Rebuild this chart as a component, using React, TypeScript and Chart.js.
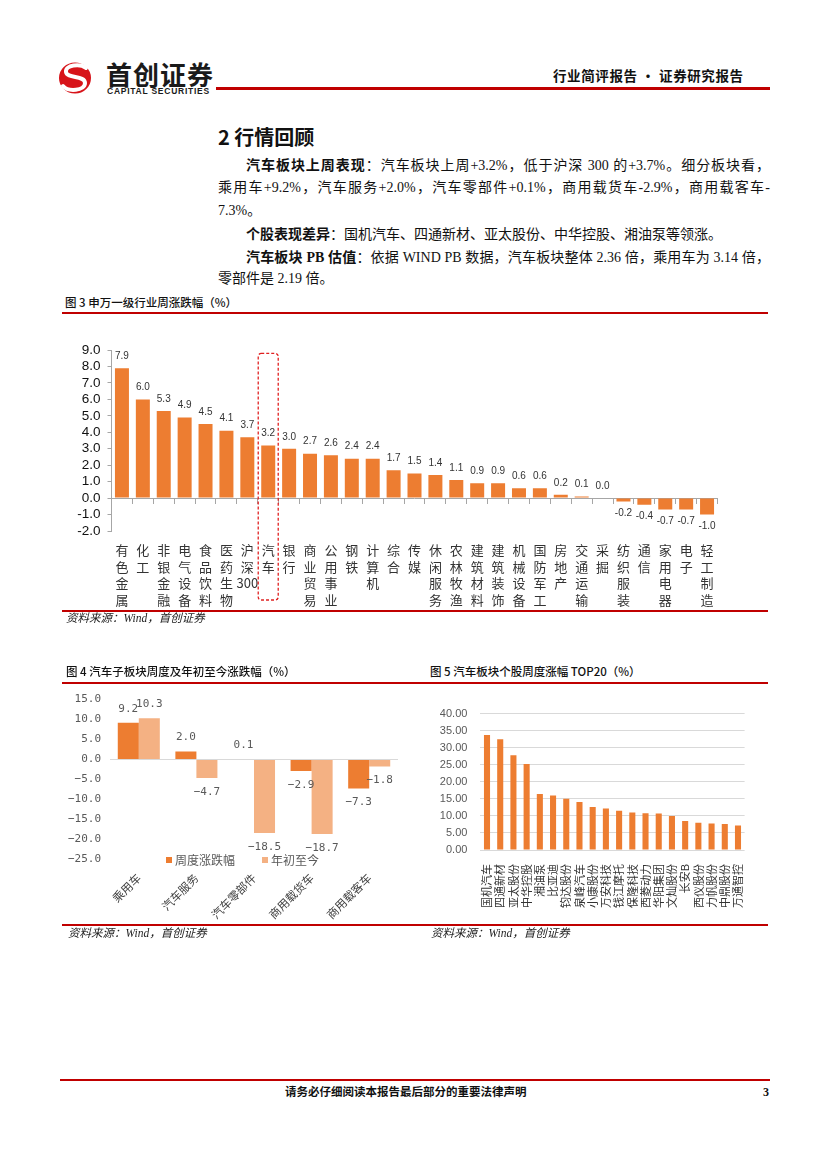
import React, { useEffect, useRef } from 'react';
import { Chart, registerables } from 'chart.js';

Chart.register(...registerables);

// ---------- data ----------
const industryLabels = ['有色金属', '化工', '非银金融', '电气设备', '食品饮料', '医药生物', '沪深300', '汽车', '银行', '商业贸易', '公用事业', '钢铁', '计算机', '综合', '传媒', '休闲服务', '农林牧渔', '建筑材料', '建筑装饰', '机械设备', '国防军工', '房地产', '交通运输', '采掘', '纺织服装', '通信', '家用电器', '电子', '轻工制造'];
const industryValues = [7.9, 6.0, 5.3, 4.9, 4.5, 4.1, 3.7, 3.2, 3.0, 2.7, 2.6, 2.4, 2.4, 1.7, 1.5, 1.4, 1.1, 0.9, 0.9, 0.6, 0.6, 0.2, 0.1, 0.0, -0.2, -0.4, -0.7, -0.7, -1.0];
const industryHighlight = '汽车';

const subLabels = ['乘用车', '汽车服务', '汽车零部件', '商用载货车', '商用载客车'];
const subSeriesNames = ['周度涨跌幅', '年初至今'];
const subWeekly = [9.2, 2.0, 0.1, -2.9, -7.3];
const subYtd = [10.3, -4.7, -18.5, -18.7, -1.8];

const stockLabels = ['国机汽车', '四通新材', '亚太股份', '中华控股', '湘油泵', '比亚迪', '钧达股份', '泉峰汽车', '小康股份', '万安科技', '钱江摩托', '保隆科技', '西菱动力', '华阳集团', '文灿股份', '长安B', '西仪股份', '力帆股份', '中鼎股份', '万通智控'];
const stockValues = [33.7, 32.5, 27.8, 25.2, 16.4, 16.0, 15.0, 14.1, 12.6, 12.2, 11.5, 11.0, 10.8, 10.7, 10.0, 8.5, 8.0, 7.8, 7.6, 7.2];

const ORANGE = '#ED7D31';
const PEACH = '#F4B183';
const RED = '#C00000';
const CJK = '"Noto Sans CJK SC"';
const SERIF = '"Liberation Serif", "Noto Sans CJK SC"';

// ---------- plugins ----------
const valueLabelPlugin: any = {
  id: 'valueLabels',
  afterDatasetsDraw(chart: any, _a: any, opts: any) {
    if (!opts || !opts.enabled) return;
    const ctx = chart.ctx;
    ctx.save();
    ctx.font = opts.font;
    ctx.fillStyle = opts.color;
    ctx.textAlign = 'center';
    ctx.textBaseline = 'middle';
    chart.data.datasets.forEach((ds: any, di: number) => {
      const meta = chart.getDatasetMeta(di);
      meta.data.forEach((el: any, i: number) => {
        const v = ds.data[i] as number;
        let t = v.toFixed(opts.decimals);
        if (v < 0) t = t.replace('-', opts.minus);
        const y = v >= 0 ? el.y - opts.offset : el.y + opts.offset;
        ctx.fillText(t, el.x, y);
      });
    });
    ctx.restore();
  },
};

const highlightPlugin: any = {
  id: 'highlightBox',
  afterDraw(chart: any, _a: any, opts: any) {
    if (!opts || !opts.enabled) return;
    const xs = chart.scales.x;
    const ys = chart.scales.y;
    const idx = chart.data.labels.findIndex((l: any) => (Array.isArray(l) ? l.join('') : l) === opts.label);
    if (idx < 0) return;
    const cx = xs.getPixelForValue(idx);
    const half = opts.halfWidth;
    const top = ys.getPixelForValue(opts.topValue);
    const bottom = chart.chartArea.bottom + opts.below;
    const ctx = chart.ctx;
    ctx.save();
    ctx.strokeStyle = opts.color;
    ctx.lineWidth = 1.3;
    ctx.setLineDash([3, 2]);
    ctx.beginPath();
    if (ctx.roundRect) ctx.roundRect(cx - half, top, half * 2, bottom - top, 3);
    else ctx.rect(cx - half, top, half * 2, bottom - top);
    ctx.stroke();
    ctx.restore();
  },
};

const innerLegendPlugin: any = {
  id: 'innerLegend',
  afterDraw(chart: any, _a: any, opts: any) {
    if (!opts || !opts.enabled) return;
    const ctx = chart.ctx;
    ctx.save();
    ctx.font = opts.font;
    ctx.textBaseline = 'middle';
    ctx.textAlign = 'left';
    const items = chart.data.datasets.map((d: any) => ({ text: d.label, color: d.backgroundColor }));
    const widths = items.map((it: any) => opts.box + opts.gap + ctx.measureText(it.text).width);
    const total = widths.reduce((a: number, b: number) => a + b, 0) + opts.itemGap * (items.length - 1);
    let x = (chart.chartArea.left + chart.chartArea.right) / 2 - total / 2 + opts.shiftX;
    const y = chart.chartArea.bottom + opts.shiftY;
    items.forEach((it: any, i: number) => {
      ctx.fillStyle = it.color;
      ctx.fillRect(x, y - opts.box / 2, opts.box, opts.box);
      ctx.fillStyle = opts.color;
      ctx.fillText(it.text, x + opts.box + opts.gap, y);
      x += widths[i] + opts.itemGap;
    });
    ctx.restore();
  },
};

// ---------- chart configs ----------
function makeIndustry(): any {
  const labels = industryLabels.map((l) => (l === '沪深300' ? ['沪', '深', '300'] : Array.from(l)));
  return {
    type: 'bar',
    data: {
      labels,
      datasets: [{ data: industryValues, backgroundColor: ORANGE, barPercentage: 0.67, categoryPercentage: 1 }],
    },
    options: {
      responsive: true,
      maintainAspectRatio: false,
      animation: false,
      layout: { padding: { top: 13, left: 0, right: 50.5, bottom: 0 } },
      plugins: {
        legend: { display: false },
        tooltip: { enabled: false },
        valueLabels: { enabled: true, font: '10px "Liberation Sans"', color: '#333', offset: 12, decimals: 1, minus: '-' },
        highlightBox: { enabled: true, label: industryHighlight, topValue: 8.8, below: 69, halfWidth: 10, color: '#E02020' },
      },
      scales: {
        x: {
          grid: { display: false },
          border: { display: false },
          ticks: {
            autoSkip: false,
            maxRotation: 0,
            minRotation: 0,
            padding: 3,
            color: '#333',
            font: { family: CJK, size: 13, lineHeight: 1.27 },
          },
          afterFit: (s: any) => { s.height = 79; },
        },
        x2: {
          axis: 'x',
          type: 'category',
          position: { y: 0 },
          offset: true,
          grid: { display: true, offset: true, drawOnChartArea: false, drawTicks: true, tickLength: 5, color: '#A6A6A6' },
          border: { display: true, color: '#A6A6A6' },
          ticks: { display: false },
        },
        y: {
          min: -2,
          max: 9,
          ticks: {
            stepSize: 1,
            autoSkip: false,
            callback: (v: any) => Number(v).toFixed(1),
            color: '#111',
            font: { family: '"Liberation Sans"', size: 13.5 },
            padding: 7,
          },
          grid: { display: true, drawOnChartArea: false, drawTicks: true, tickLength: 4, color: '#A6A6A6' },
          border: { display: true, color: '#A6A6A6' },
          afterFit: (s: any) => { s.width = 49.5; },
        },
      },
    },
    plugins: [valueLabelPlugin, highlightPlugin],
  };
}

function makeSub(): any {
  return {
    type: 'bar',
    data: {
      labels: subLabels,
      datasets: [
        { label: subSeriesNames[0], data: subWeekly, backgroundColor: ORANGE, barPercentage: 1, categoryPercentage: 0.73 },
        { label: subSeriesNames[1], data: subYtd, backgroundColor: PEACH, barPercentage: 1, categoryPercentage: 0.73 },
      ],
    },
    options: {
      responsive: true,
      maintainAspectRatio: false,
      animation: false,
      layout: { padding: { top: 6, left: 0, right: 22, bottom: 0 } },
      plugins: {
        legend: { display: false },
        tooltip: { enabled: false },
        valueLabels: { enabled: true, font: '11px "DejaVu Sans Mono"', color: '#595959', offset: 14, decimals: 1, minus: '−' },
        innerLegend: { enabled: true, font: `12px ${CJK}`, color: '#595959', box: 6, gap: 3, itemGap: 27, shiftX: -11.5, shiftY: 1 },
      },
      scales: {
        x: {
          grid: { display: false },
          border: { display: false },
          ticks: {
            autoSkip: false,
            maxRotation: 45,
            minRotation: 45,
            padding: 4,
            color: '#404040',
            font: { family: CJK, size: 11.5 },
          },
          afterFit: (s: any) => { s.height = 85; },
        },
        y: {
          min: -25,
          max: 15,
          ticks: {
            stepSize: 5,
            autoSkip: false,
            callback: (v: any) => Number(v).toFixed(1).replace('-', '−'),
            color: '#595959',
            font: { family: '"DejaVu Sans Mono"', size: 11 },
            padding: 9,
          },
          grid: {
            drawTicks: false,
            color: (c: any) => (c.tick && c.tick.value === 0 ? '#D9D9D9' : 'rgba(0,0,0,0)'),
          },
          border: { display: false },
          afterFit: (s: any) => { s.width = 48; },
        },
      },
    },
    plugins: [valueLabelPlugin, innerLegendPlugin],
  };
}

function makeStocks(): any {
  return {
    type: 'bar',
    data: {
      labels: stockLabels,
      datasets: [{ data: stockValues, backgroundColor: ORANGE, barPercentage: 0.46, categoryPercentage: 1 }],
    },
    options: {
      responsive: true,
      maintainAspectRatio: false,
      animation: false,
      layout: { padding: { top: 7, left: 0, right: 25.4, bottom: 0 } },
      plugins: { legend: { display: false }, tooltip: { enabled: false } },
      scales: {
        x: {
          grid: { display: false },
          border: { display: false },
          ticks: {
            autoSkip: false,
            maxRotation: 90,
            minRotation: 90,
            padding: 6,
            color: '#333',
            font: { family: CJK, size: 11 },
          },
          afterFit: (s: any) => { s.height = 72; },
        },
        y: {
          min: 0,
          max: 40,
          ticks: {
            stepSize: 5,
            autoSkip: false,
            callback: (v: any) => Number(v).toFixed(2),
            color: '#595959',
            font: { family: '"Liberation Sans"', size: 11 },
            padding: 13,
          },
          grid: { drawTicks: false, color: '#D9D9D9' },
          border: { display: false },
          afterFit: (s: any) => { s.width = 60.4; },
        },
      },
    },
  };
}

// ---------- components ----------
function ChartBox(props: { left: number; top: number; width: number; height: number; make: () => any }) {
  const ref = useRef<HTMLCanvasElement>(null);
  useEffect(() => {
    const chart = new Chart(ref.current as HTMLCanvasElement, props.make());
    return () => chart.destroy();
  }, []);
  return (
    <div style={{ position: 'absolute', left: props.left, top: props.top, width: props.width, height: props.height }}>
      <canvas ref={ref} />
    </div>
  );
}

function Txt(props: { x: number; cy: number; size: number; children: any; style?: any; w?: number }) {
  const lh = props.size + 8;
  return (
    <div
      style={{
        position: 'absolute',
        left: props.x,
        top: props.cy - lh / 2,
        width: props.w,
        lineHeight: `${lh}px`,
        fontSize: props.size,
        whiteSpace: 'nowrap',
        ...props.style,
      }}
    >
      {props.children}
    </div>
  );
}

function Line(props: { x1: number; x2: number; y: number; h: number; color?: string }) {
  return <div style={{ position: 'absolute', left: props.x1, top: props.y - props.h / 2, width: props.x2 - props.x1, height: props.h, background: props.color || RED }} />;
}

const bodyStyle = { fontFamily: SERIF, color: '#111' };
const justify = { textAlign: 'justify', textAlignLast: 'justify', whiteSpace: 'normal' } as any;
const titleStyle = { fontFamily: CJK, color: '#111', fontWeight: 500 };
const srcStyle = { fontFamily: SERIF, fontStyle: 'italic', color: '#222' };

export default function App() {
  return (
    <div style={{ position: 'absolute', left: 0, top: 0, width: 827, height: 1169, background: '#fff', overflow: 'hidden' }}>
      {/* header */}
      <svg style={{ position: 'absolute', left: 56, top: 58 }} width={40} height={40} viewBox="0 0 40 40">
        <ellipse cx={19} cy={20} rx={16} ry={15.5} fill="#D7141A" />
        <path d="M30 10 C24 5 9 7 10 14 C11 21 29 17 29 25 C29 33 12 34 7 28" stroke="#fff" strokeWidth={4} fill="none" strokeLinecap="round" />
      </svg>
      <Txt x={106} cy={74} size={26} style={{ fontFamily: CJK, fontWeight: 700, color: '#1a1a1a', letterSpacing: 1 }}>首创证券</Txt>
      <Txt x={107} cy={91} size={8.5} style={{ fontFamily: '"Liberation Sans"', fontWeight: 700, color: '#1a1a1a', letterSpacing: 0.75 }}>CAPITAL SECURITIES</Txt>
      <Line x1={216} x2={770} y={88} h={3} />
      <Txt x={553} cy={76} size={13.5} style={{ fontFamily: CJK, fontWeight: 700, color: '#111', letterSpacing: 0.6 }}>行业简评报告 · 证券研究报告</Txt>

      {/* section heading and text */}
      <Txt x={218} cy={137} size={20} style={{ fontFamily: CJK, fontWeight: 700, color: '#111' }}>2 行情回顾</Txt>
      <Txt x={246} cy={166} size={14} w={524} style={{ ...bodyStyle, ...justify }}>
        <b>汽车板块上周表现</b>：汽车板块上周+3.2%，低于沪深 300 的+3.7%。细分板块看，
      </Txt>
      <Txt x={218} cy={188} size={14} w={552} style={{ ...bodyStyle, ...justify }}>
        乘用车+9.2%，汽车服务+2.0%，汽车零部件+0.1%，商用载货车-2.9%，商用载客车-
      </Txt>
      <Txt x={218} cy={211} size={14} style={bodyStyle}>7.3%。</Txt>
      <Txt x={246} cy={235} size={14} style={bodyStyle}>
        <b>个股表现差异</b>：国机汽车、四通新材、亚太股份、中华控股、湘油泵等领涨。
      </Txt>
      <Txt x={246} cy={258} size={14} w={524} style={{ ...bodyStyle, ...justify }}>
        <b>汽车板块 PB 估值</b>：依据 WIND PB 数据，汽车板块整体 2.36 倍，乘用车为 3.14 倍，
      </Txt>
      <Txt x={218} cy={279} size={14} style={bodyStyle}>零部件是 2.19 倍。</Txt>

      {/* figure 3 */}
      <Txt x={65} cy={303} size={11.5} style={titleStyle}>图 3 申万一级行业周涨跌幅（%）</Txt>
      <Line x1={62} x2={768} y={313} h={1.5} />
      <ChartBox left={62} top={335} width={706} height={275} make={makeIndustry} />
      <Line x1={62} x2={768} y={611} h={1.5} />
      <Txt x={66} cy={619} size={11.5} style={srcStyle}>资料来源：Wind，首创证券</Txt>

      {/* figure 4 */}
      <Txt x={66} cy={672} size={11.5} style={titleStyle}>图 4 汽车子板块周度及年初至今涨跌幅（%）</Txt>
      <Line x1={62} x2={420} y={683} h={1.5} />
      <ChartBox left={62} top={684} width={358} height={260} make={makeSub} />
      <Line x1={62} x2={420} y={925} h={1.5} />
      <Txt x={68} cy={934} size={11.5} style={srcStyle}>资料来源：Wind，首创证券</Txt>

      {/* figure 5 */}
      <Txt x={430} cy={672} size={11.5} style={titleStyle}>图 5 汽车板块个股周度涨幅 TOP20（%）</Txt>
      <Line x1={420} x2={768} y={683} h={1.5} />
      <ChartBox left={420} top={694} width={350} height={228} make={makeStocks} />
      <Line x1={420} x2={768} y={925} h={1.5} />
      <Txt x={431} cy={934} size={11.5} style={srcStyle}>资料来源：Wind，首创证券</Txt>

      {/* footer */}
      <Line x1={60} x2={770} y={1080} h={2.5} />
      <Txt x={285} cy={1092} size={11.5} style={{ fontFamily: CJK, fontWeight: 700, color: '#111' }}>请务必仔细阅读本报告最后部分的重要法律声明</Txt>
      <Txt x={763} cy={1092} size={12} style={{ fontFamily: SERIF, fontWeight: 700, color: '#111' }}>3</Txt>
    </div>
  );
}
